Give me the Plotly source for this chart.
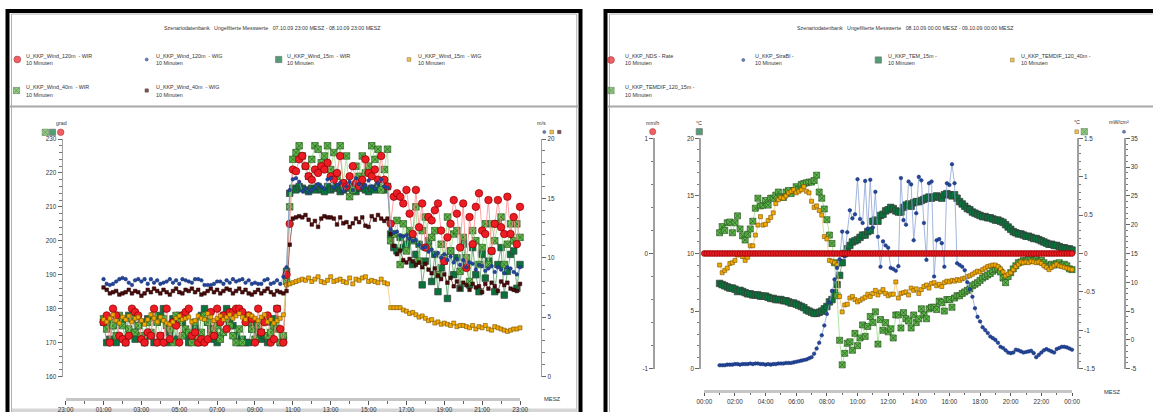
import pandas as pd
import plotly.graph_objects as go

W, H = 1153, 412
FONT = "Liberation Sans, Arial, sans-serif"

# ---------------- DATA: left panel (07.10.09 23:00 - 08.10.09 23:00), 10-min values from 01:00 ----------------
left_start = "2009-10-08 01:00"
wig_120 = [8.2,7.8,7.7,7.8,8.0,8.2,8.3,8.2,7.9,7.7, 8.1,8.2,8.0,8.2,7.8,8.2,7.9,8.1,7.8,7.9,
           8.0,8.2,7.9,8.1,7.8,8.2,8.1,8.0,7.9,8.2, 8.2,8.1,7.7,7.7,7.7,7.8,8.0,8.0,7.8,8.1,
           7.9,8.2,8.0,8.1,8.2,7.9,8.1,7.8,7.9,7.8, 7.8,8.1,8.2,7.8,7.9,8.1,7.8,8.4,
           9.2,15.7,
           16.6,16.7,16.4,15.6,15.8,15.5,15.7,15.9,16.2,16.0, 15.8,16.6,16.7,15.9,16.1,16.3,15.6,16.0,16.4,15.7,
           16.7,16.2,15.9,16.1,16.5,16.0,15.8,16.3,16.6,16.0, 15.9,
           12.4,12.1,12.2,11.9,11.8,11.9,11.6,11.4,11.5,11.1, 10.8,10.9,10.5,10.7,10.2,10.4,10.0,10.3,9.8,10.1,
           9.6,9.9,9.4,9.8,9.2,9.6,9.5,9.0,9.4,9.3, 8.9,9.1,9.3,8.8,9.2,9.0,8.7,9.2,9.1,8.8, 8.6,9.2]
wig_40 = [7.5,7.3,7.0,7.1,7.2,6.9,7.0,7.1,7.3,7.0, 7.2,7.1,6.8,7.0,7.3,7.1,7.4,7.2,7.0,7.3,
          7.1,6.9,7.2,7.4,7.1,7.0,7.3,7.2,7.4,7.1, 7.3,6.9,7.0,7.2,7.4,7.1,7.3,7.0,7.2,7.4,
          7.3,7.0,7.2,7.4,7.1,7.3,7.0,6.9,7.1,7.3, 7.0,7.2,7.4,7.1,6.9,7.2,7.1,7.0,
          7.2,11.1,
          13.3,13.4,13.5,13.4,13.6,13.2,12.8,13.1,12.6,13.3, 13.5,13.4,13.4,13.3,12.8,13.4,12.9,13.0,12.6,12.9,
          13.3,13.0,13.4,12.7,12.6,13.5,13.2,13.6,13.3,13.1, 13.3,
          12.0,11.0,10.3,10.6,9.8,9.6,9.9,9.7,9.4,9.6, 9.2,9.5,9.0,8.7,9.1,8.5,8.2,8.6,7.9,8.3,
          7.6,8.0,7.4,7.9,7.7,7.3,7.8,7.5,7.6,7.1, 7.8,7.4,7.9,7.6,7.2,8.0,7.7,7.9,7.4,7.3, 7.2,7.8]
wig_15 = [4.8,4.6,4.9,5.2,4.7,4.5,5.0,4.8,5.1,4.6, 4.9,5.0,4.7,4.4,4.8,5.2,4.9,4.6,5.0,4.7,
          4.5,4.4,4.6,4.9,5.1,4.8,4.9,5.0,4.6,4.7, 5.1,4.9,4.8,5.3,5.0,4.7,4.9,5.1,4.8,5.0,
          5.2,4.9,5.1,5.3,5.0,4.8,5.2,5.1,4.9,4.7, 5.0,5.2,4.6,4.8,4.5,4.7,4.9,5.2,
          7.7,7.8,
          7.9,8.0,8.1,8.2,8.1,8.3,8.0,8.2,8.4,8.0, 7.9,8.1,8.4,8.0,8.1,8.2,8.0,7.9,8.3,7.8,
          8.2,8.1,8.3,8.4,8.0,8.1,8.0,7.9,8.2,7.9, 7.8,
          5.8,5.8,5.8,5.8,5.6,5.5,5.3,5.4,5.2,5.0, 5.1,4.9,4.7,4.8,4.5,4.6,4.4,4.5,4.4,4.3,
          4.5,4.2,4.3,4.3,4.2,4.1,4.3,4.0,4.2,4.1, 4.3,4.0,3.9,4.2,4.1,4.0,3.9,3.8,3.9,4.0, 4.0,4.1]
wir_120 = [176,178,170,180,178,172,171,170,172,180, 179,178,171,170,173,172,180,170,172,170,
           180,171,176,175,170,178,179,180,172,173, 170,171,170,171,179,172,180,176,178,174,
           179,179,180,180,179,176,178,177,170,180, 173,176,178,170,171,180,174,170,
           190,205,
           221,220.5,224,225,222,219,218,221,220,222, 221,223,219,218,220,225,217,216,219,222,
           217,216,218,224,220,219,221,218,225,218, 216,
           205,213,214,213,211,215,208,202,215,204, 211,198,207,206,209,211,203,194,201,205,
           212,208,198,211,192,207,199,210,214,203, 202,212,197,205,212,204,202,213,202,207, 199,210]
wir_15 = [176,170,171,175,170,177,176,170,178,173, 171,175,176,171,177,172,170,176,178,180,
          170,173,177,171,178,176,172,170,171,174, 170,178,180,176,174,171,170,172,178,180,
          176,175,172,170,171,170,170,174,176,173, 171,172,170,176,177,180,170,171,
          191,214,
          215.5,215,216,215.5,215,214.5,215.5,215,216,215, 214.5,216,215,215.5,216,214.5,215,215.5,216,215,
          214.5,215.5,216,215,214.5,215.5,215,216,215.5,215, 216,
          202,198,197,201,198,199,201,193,196,199, 187,194,200,188,196,185,192,194,183,197,
          190,195,186,199,193,187,198,190,185,196, 189,194,197,185,193,198,184,191,196,197, 186,193]
wir_40 = [177,174,176,175,172,178,175,171,174,177, 173,175,172,170,176,173,178,176,172,177,
          175,174,170,178,176,172,174,173,170,176, 171,173,178,176,172,174,175,171,173,177,
          175,172,170,174,170,178,176,174,171,175, 173,177,172,173,175,174,170,172,
          188,210,
          224,226,228,225,222,219,224,228,227,223, 225,228,221,226,219,228,217,225,213,215,
          222,219,225,220,222,228,224,227,215,221, 227,
          200,202,206,193,205,197,203,200,210,194, 203,207,198,201,203,190,199,195,207,197,
          202,203,191,201,195,188,203,200,193,198, 205,193,205,200,205,207,193,199,205,200, 205,201]

# ---------------- DATA: right panel (08.10.09 00:00 - 09.10.09 00:00) ----------------
right_start = "2009-10-08 01:00"
rain_start = "2009-10-08 00:00"
nds_rate = [0,0,0,0,0,0,0,0,0,0, 0,0,0,0,0,0,0,0,0,0, 0,0,0,0,0,0,0,0,0,0, 0,0,0,0,0,0,0,0,0,0,
            0,0,0,0,0,0,0,0,0,0, 0,0,0,0,0,0,0,0,0,0, 0,0,0,0,0,0,0,0,0,0, 0,0,0,0,0,0,0,0,0,0,
            0,0,0,0,0,0,0,0,0,0, 0,0,0,0,0,0,0,0,0,0, 0,0,0,0,0,0,0,0,0,0, 0,0,0,0,0,0,0,0,0,0,
            0,0,0,0,0,0,0,0,0,0, 0,0,0,0,0,0,0,0,0,0, 0,0,0,0,0]
strabl = [-4.4,-4.4,-4.4,-4.3,-4.3,-4.3,-4.2,-4.2,-4.3,-4.2,-4.2,-4.2,-4.1,-4.2,-4.1,-4.1,-4.2,-4.2,
          -4.3,-4.2,-4.3,-4.2,-4.2,-4.1,-4.1,-4.1,-4.0,-4.0,-4.0,-3.9,-3.8,-3.7,-3.6,-3.5,-3.4,-3.2,
          -3.0,-2.4,-1.5,-0.5,0.8,2.5,4.5,6.5,8.5,10.5,12.5,14.0,
          18.8,14.5,18.7,22.5,21.1,21.8,27.9,21.0,20.3,27.6,19.3,27.8,
          19.5,25.7,17.9,12.7,17.1,16.4,16.0,12.5,12.3,12.0,12.8,28.1,
          20.8,20.0,27.5,27.0,17.3,22.0,28.3,27.7,20.3,13.9,27.2,27.5,
          11.0,17.3,17.5,16.8,12.7,27.2,26.9,30.5,27.2,13.3,13.0,12.7,
          12.1,10.0,8.8,7.5,5.5,4.0,3.2,2.2,1.7,1.2,0.6,0.3,
          0.0,-0.5,-1.2,-1.4,-1.8,-2.2,-2.3,-2.2,-1.7,-1.8,-2.0,-2.2,
          -2.1,-2.0,-1.9,-2.3,-3.0,-2.6,-2.2,-1.8,-1.6,-1.8,-2.0,-2.2,
          -1.6,-1.4,-1.2,-1.2,-1.3,-1.5,-1.7]
tem_15 = [7.4,7.3,7.2,7.1,7.0,7.0,6.9,6.7,6.8,6.7, 6.6,6.5,6.5,6.4,6.4,6.4,6.3,6.3,6.3,6.2,
          6.1,6.1,6.0,6.0,6.0,5.9,5.9,5.8,5.7,5.7, 5.6,5.5,5.4,5.3,5.1,5.0,
          4.9,4.8,4.8,4.9,5.0,5.2,5.4,5.8,6.0,6.6,7.3,8.1,
          9.2,10.0,10.4,10.7,11.0,11.1,11.2,11.4,11.6,11.6,11.9,12.0,
          12.8,12.9,12.8,13.3,13.4,13.7,13.8,14.0,13.9,13.7,13.6,13.6,
          14.0,14.2,14.3,14.1,14.4,14.5,14.5,14.6,14.7,14.8,14.9,14.8,
          14.9,15.0,14.9,14.8,15.1,15.2,15.1,15.0,15.1,14.8,14.5,14.3,
          14.1,13.9,13.8,13.6,13.5,13.4,13.3,13.2,13.2,13.1,13.1,13.0,
          12.9,12.9,12.8,12.7,12.5,12.3,12.1,11.9,11.8,11.7,11.7,11.6,
          11.5,11.5,11.4,11.3,11.3,11.2,11.1,11.0,10.9,10.8,10.8,10.7,
          10.7,10.6,10.5,10.5,10.4,10.4,10.3]
temdif_40 = [-0.15,-0.25,-0.22,-0.19,-0.13,-0.12,-0.09,-0.02,0.0,-0.04,-0.09,-0.05,
             0.10,0.10,0.24,0.37,0.48,0.37,0.38,0.43,0.47,0.53,0.65,0.70,
             0.73,0.72,0.75,0.79,0.81,0.83,0.79,0.81,0.83,0.87,0.81,0.79,
             0.68,0.60,0.62,0.56,0.50,0.22,0.19,-0.09,-0.10,-0.12,-0.15,-0.56,
             -0.76,-0.67,-0.66,-0.58,-0.56,-0.60,-0.63,-0.61,-0.59,-0.57,-0.53,-0.56,
             -0.52,-0.48,-0.54,-0.50,-0.47,-0.52,-0.55,-0.53,-0.53,-0.37,-0.58,-0.52,
             -0.51,-0.50,-0.54,-0.45,-0.48,-0.46,-0.52,-0.47,-0.43,-0.41,-0.45,-0.39,
             -0.38,-0.42,-0.40,-0.43,-0.38,-0.36,-0.37,-0.35,-0.36,-0.34,-0.35,-0.33,
             -0.32,-0.30,-0.29,-0.27,-0.25,-0.23,-0.24,-0.21,-0.19,-0.17,-0.16,-0.15,
             -0.15,-0.17,-0.20,-0.24,-0.29,-0.27,-0.25,-0.21,-0.17,-0.14,-0.11,-0.12,
             -0.11,-0.12,-0.10,-0.11,-0.12,-0.11,-0.13,-0.16,-0.18,-0.21,-0.18,-0.16,
             -0.14,-0.16,-0.17,-0.18,-0.19,-0.20,-0.21]
temdif_15 = [0.27,0.35,0.30,0.40,0.41,0.27,0.40,0.49,0.32,0.23,0.175,0.25,
             0.32,0.42,0.59,0.72,0.62,0.63,0.69,0.63,0.72,0.72,0.76,0.80,
             0.74,0.73,0.80,0.82,0.78,0.82,0.87,0.84,0.90,0.91,0.92,0.93,
             0.93,0.95,1.02,0.80,0.72,0.58,0.44,0.24,0.13,-0.12,-0.55,-1.13,
             -1.45,-1.30,-1.17,-1.15,-1.26,-1.04,-1.20,-1.10,-0.93,-1.08,-0.95,-0.82,
             -0.90,-0.76,-1.18,-0.86,-1.00,-0.90,-1.02,-0.98,-1.10,-0.80,-0.80,-0.97,
             -0.77,-0.85,-0.88,-0.97,-0.80,-0.90,-0.85,-0.72,-0.80,-0.85,-0.72,-0.70,
             -0.70,-0.73,-0.62,-0.64,-0.75,-0.60,-0.60,-0.70,-0.58,-0.55,-0.55,-0.52,
             -0.50,-0.48,-0.46,-0.42,-0.40,-0.38,-0.35,-0.32,-0.30,-0.28,-0.26,-0.23,
             -0.21,-0.20,-0.24,-0.32,-0.38,-0.30,-0.25,-0.20,-0.16,-0.12,-0.11,-0.09,
             -0.10,-0.08,-0.07,-0.09,-0.08,-0.10,-0.09,-0.12,-0.15,-0.17,-0.14,-0.15,
             -0.13,-0.12,-0.15,-0.14,-0.16,-0.20,-0.21]

# tick labels
grad_ticks = [160, 170, 180, 190, 200, 210, 220, 230]
ms_ticks = [0, 5, 10, 15, 20]
mmh_ticks = [-1, 0, 1]
tem_ticks = [0, 5, 10, 15, 20]
dif_ticks = [-1.5, -1, -0.5, 0, 0.5, 1, 1.5]
mw_ticks = [-5, 0, 5, 10, 15, 20, 25, 30, 35]

# ---------------- styles ----------------
def px(x):
    return x / W

def py(y):
    return 1 - y / H

RED = dict(symbol="circle", color="#ee1c24", line=dict(color="#8a0000", width=0.7))
DKG = dict(symbol="square", color="#08743b", line=dict(color="#3a3a3a", width=0.7))
LTG = dict(symbol="square-x", color="#5cba48", line=dict(color="#2f5a26", width=0.7))
BLU = dict(symbol="circle", color="#23469c", line=dict(color="#0f2a6a", width=0.5))
BRN = dict(symbol="square", color="#4b0b0b", line=dict(color="#220000", width=0.5))
ORG = dict(symbol="square", color="#f2aa00", line=dict(color="#7a5200", width=0.6))

def mk(style, size):
    d = dict(style)
    d["size"] = size
    return d

def tr(x, y, xa, ya, style, size, lcol):
    return go.Scatter(x=x, y=y, xaxis=xa, yaxis=ya, mode="lines+markers",
                      line=dict(color=lcol, width=0.8), marker=mk(style, size),
                      cliponaxis=False, showlegend=False, hoverinfo="skip")

tl = pd.date_range(left_start, periods=len(wir_120), freq="10min")
trr = pd.date_range(right_start, periods=len(tem_15), freq="10min")
tra = pd.date_range(rain_start, periods=len(nds_rate), freq="10min")

traces = [
    tr(tl, wir_15, "x", "y", DKG, 6.5, "#4f9a5f"),
    tr(tl, wir_40, "x", "y", LTG, 6.5, "#9fdc90"),
    tr(tl, wir_120, "x", "y", RED, 7.5, "#ff8a8a"),
    tr(tl, wig_15, "x", "y2", ORG, 4, "#f5c870"),
    tr(tl, wig_40, "x", "y2", BRN, 3.6, "#7a3a3a"),
    tr(tl, wig_120, "x", "y2", BLU, 3.6, "#8aa3d6"),
    tr(trr, tem_15, "x2", "y3", DKG, 6.5, "#5aa070"),
    tr(trr, temdif_15, "x2", "y4", LTG, 6, "#9fdc90"),
    tr(trr, temdif_40, "x2", "y4", ORG, 4, "#f5c870"),
    tr(trr, strabl, "x2", "y5", BLU, 3.6, "#8aa3d6"),
    tr(tra, nds_rate, "x2", "y6", RED, 5.8, "#ff8a8a"),
]

# legend / axis-header keys drawn on a helper pixel axis
keys = [
    (17.3, 59.5, RED, 6.8), (146.7, 59.5, BLU, 3.0), (278.7, 59.5, DKG, 6.2), (409.0, 59.5, ORG, 3.6),
    (16.5, 90.5, LTG, 6.2), (146.7, 90.5, BRN, 3.2),
    (611.0, 60.0, RED, 6.8), (743.3, 60.0, BLU, 3.0), (878.3, 60.0, DKG, 6.2), (1012.3, 60.0, ORG, 3.6),
    (611.0, 90.5, LTG, 6.2),
    (45.3, 132.3, LTG, 6.2), (52.5, 132.3, DKG, 6.2), (60.7, 132.3, RED, 6.5),
    (544.3, 132.0, BLU, 3.0), (551.7, 132.0, ORG, 3.6), (559.3, 132.0, BRN, 3.2),
    (652.7, 131.7, RED, 6.2), (699.3, 131.7, DKG, 6.2),
    (1076.7, 131.7, ORG, 3.6), (1084.3, 131.7, LTG, 6.2),
    (1124.0, 131.7, BLU, 3.0),
]
traces.append(go.Scatter(
    x=[k[0] for k in keys], y=[k[1] for k in keys], xaxis="x3", yaxis="y7", mode="markers",
    marker=dict(symbol=[k[2]["symbol"] for k in keys], color=[k[2]["color"] for k in keys],
                size=[k[3] for k in keys],
                line=dict(color=[k[2]["line"]["color"] for k in keys], width=0.7)),
    cliponaxis=False, showlegend=False, hoverinfo="skip"))

fig = go.Figure(traces)

TF = dict(family=FONT, size=6.3, color="#333333")

def yax(pos, rng, vals, side, minor_dtick, domain):
    return dict(domain=domain, anchor="free", position=pos, side=side, range=rng,
                tickmode="array", tickvals=vals, ticktext=[("%g" % v) for v in vals],
                ticks="outside", ticklen=4, tickwidth=1, tickcolor="#666666",
                minor=dict(tickmode="linear", tick0=rng[0], dtick=minor_dtick, ticks="outside",
                           ticklen=2.5, tickwidth=1, tickcolor="#777777"),
                showline=True, linecolor="#a0a0a0", linewidth=1.5,
                showgrid=False, zeroline=False, tickfont=TF, fixedrange=True)

def xax(domain, pos, rng, t0):
    return dict(domain=domain, anchor="free", position=pos, type="date", range=rng,
                tick0=t0, dtick=7200000, tickformat="%H:%M",
                ticks="outside", ticklen=3.5, tickwidth=1, tickcolor="#555555",
                minor=dict(dtick=3600000, ticks="outside", ticklen=2.5, tickwidth=1, tickcolor="#666666"),
                showline=True, linecolor="#c6c6c6", linewidth=3,
                showgrid=False, zeroline=False, tickfont=TF, fixedrange=True)

LD = [py(376.5), py(139.0)]
RD = [py(368.7), py(138.3)]

fig.update_layout(
    width=W, height=H, margin=dict(l=0, r=0, t=0, b=0, autoexpand=False),
    paper_bgcolor="white", plot_bgcolor="rgba(0,0,0,0)", hovermode=False,
    font=dict(family=FONT, size=6.3, color="#333333"), showlegend=False,
    xaxis=xax([px(65.7), px(520.0)], py(399.0), ["2009-10-07 23:00", "2009-10-08 23:00"], "2009-10-07 23:00"),
    xaxis2=xax([px(704.3), px(1072.0)], py(390.7), ["2009-10-08 00:00", "2009-10-09 00:00"], "2009-10-08 00:00"),
    xaxis3=dict(domain=[0, 1], range=[0, W], visible=False, anchor="y7", fixedrange=True),
    yaxis=yax(px(61.5), [160, 230], grad_ticks, "left", 2, LD),
    yaxis2=dict(yax(px(540.7), [0, 20], ms_ticks, "right", 1, LD), overlaying="y"),
    yaxis3=yax(px(699.3), [0, 20], tem_ticks, "left", 1, RD),
    yaxis4=dict(yax(px(1077.3), [-1.5, 1.5], dif_ticks, "right", 0.1, RD), overlaying="y3"),
    yaxis5=dict(yax(px(1124.0), [-5, 35], mw_ticks, "right", 1, RD), overlaying="y3"),
    yaxis6=dict(yax(px(653.3), [-1, 1], mmh_ticks, "left", 0.2, RD), overlaying="y3"),
    yaxis7=dict(domain=[0, 1], range=[H, 0], visible=False, anchor="x3", fixedrange=True),
)

# ---------------- frames ----------------
shapes = []
def rect(x0, y0, x1, y1, color, width, fill=None):
    shapes.append(dict(type="rect", xref="paper", yref="paper", x0=px(x0), x1=px(x1), y0=py(y0), y1=py(y1),
                       line=dict(color=color, width=width), fillcolor=fill, layer="below"))
def hline(x0, x1, y, color, width):
    shapes.append(dict(type="line", xref="paper", yref="paper", x0=px(x0), x1=px(x1), y0=py(y), y1=py(y),
                       line=dict(color=color, width=width), layer="below"))

rect(7.5, 11.0, 580.5, 430, "#000000", 4)
rect(11.5, 14.0, 576.8, 430, "#b0b0b0", 1)
rect(605.5, 11.0, 1190, 430, "#000000", 4)
rect(609.5, 14.0, 1190, 430, "#b0b0b0", 1)
hline(10, 578.5, 106.5, "#a8a8a8", 2)
hline(608, 1153, 106.5, "#a8a8a8", 2)
shapes.append(dict(type="rect", xref="paper", yref="paper", x0=px(12), x1=px(576.5), y0=py(408.5), y1=py(413),
                   line=dict(width=0), fillcolor="#d6d6d6", layer="below"))
fig.update_layout(shapes=shapes)

# ---------------- texts ----------------
ann = []
def txt(x, y, s, size=5.4, xanchor="left", color="#333333"):
    ann.append(dict(x=px(x), y=py(y), xref="paper", yref="paper", text=s, showarrow=False,
                    xanchor=xanchor, yanchor="middle", font=dict(family=FONT, size=size, color=color)))

sp = "\u00a0\u00a0\u00a0"
txt(272.5, 27.5, "Szenariodatenbank" + sp + "Ungefilterte Messwerte" + sp +
    "07.10.09 23:00 MESZ - 08.10.09 23:00 MESZ", 5.3, "center")
txt(905.5, 27.5, "Szenariodatenbank" + sp + "Ungefilterte Messwerte" + sp +
    "08.10.09 00:00 MESZ - 09.10.09 00:00 MESZ", 5.3, "center")

leg = [
    (24, 55.5, "U_KKP_Wind_120m\u00a0 - WIR"), (154, 55.5, "U_KKP_Wind_120m\u00a0 - WIG"),
    (285, 55.5, "U_KKP_Wind_15m\u00a0 - WIR"), (416, 55.5, "U_KKP_Wind_15m\u00a0 - WIG"),
    (24, 87.5, "U_KKP_Wind_40m\u00a0 - WIR"), (154, 87.5, "U_KKP_Wind_40m\u00a0 - WIG"),
    (623, 55.5, "U_KKP_NDS - Rate"), (753, 55.5, "U_KKP_StraBl -"),
    (886, 55.5, "U_KKP_TEM_15m -"), (1019, 55.5, "U_KKP_TEMDIF_120_40m -"),
    (623, 87.5, "U_KKP_TEMDIF_120_15m -"),
]
for x, y, s in leg:
    txt(x, y, s)
    txt(x, y + 8.0, "10 Minuten")

txt(61.5, 123.3, "grad", 5.3, "center")
txt(541.7, 123.3, "m/s", 5.3, "center")
txt(652.7, 122.7, "mm/h", 5.3, "center")
txt(699.3, 122.7, "°C", 5.3, "center")
txt(1076.7, 122.3, "°C", 5.3, "center")
txt(1119.0, 122.3, "mW/cm²", 5.3, "center")
txt(552.3, 399.3, "MESZ", 5.8, "center")
txt(1112.7, 391.7, "MESZ", 5.8, "center")
fig.update_layout(annotations=ann)

# the page body has a default 8px margin; remove it so the figure sits at the window origin
fig.write_html("out.html", config={"displayModeBar": False, "staticPlot": True},
               post_script="document.body.style.margin='0';document.body.style.overflow='hidden';")
